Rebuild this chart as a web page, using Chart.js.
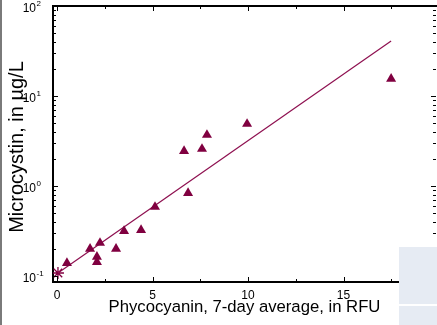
<!DOCTYPE html>
<html>
<head>
<meta charset="utf-8">
<script src="https://cdn.jsdelivr.net/npm/chart.js@4/dist/chart.umd.min.js"></script>
<style>
  html, body { margin: 0; padding: 0; background: #fff; }
  #wrap { width: 437px; height: 325px; }
</style>
</head>
<body>
<div id="wrap"><canvas id="chart" width="437" height="325"></canvas></div>
<script>
// --- data ---
const phycocyanin = [0.52, 1.73, 2.09, 2.09, 2.25, 3.09, 3.51, 4.40, 5.13, 6.65, 6.86, 7.59, 7.85, 9.95, 17.49];
const microcystin = [0.139, 0.20, 0.163, 0.143, 0.233, 0.20, 0.316, 0.324, 0.585, 2.45, 0.836, 2.58, 3.69, 4.89, 15.5];
const controlX = [0.05];
const controlY = [0.108];
const fitX = [0.05, 17.49];
const fitY = [0.108, 40.8];

const xMajorTicks = [0, 5, 10, 15];
const xMinorTicks = [2.5, 7.5, 12.5, 17.5];
const yDecades = [-1, 0, 1, 2];
const yTitle = 'Microcystin, in µg/L';

const MAROON = '#800040';
const FONT = "Arial, 'Liberation Sans', sans-serif";

// inward ticks, top frame, superscript y labels
const framePlugin = {
  id: 'frame',
  afterDraw(chart) {
    const { ctx, chartArea: a, scales: { x, y } } = chart;
    ctx.save();
    ctx.strokeStyle = '#000';

    // top frame line
    ctx.lineWidth = 2;
    ctx.beginPath();
    ctx.moveTo(a.left - 1, a.top);
    ctx.lineTo(437, a.top);
    ctx.stroke();

    ctx.lineWidth = 1;
    const xTick = (v, len) => {
      const px = Math.round(x.getPixelForValue(v)) + 0.5;
      ctx.beginPath();
      ctx.moveTo(px, a.bottom);
      ctx.lineTo(px, a.bottom - len);
      ctx.moveTo(px, a.top);
      ctx.lineTo(px, a.top + len);
      ctx.stroke();
    };
    xMajorTicks.forEach(v => xTick(v, 5));
    xMinorTicks.forEach(v => xTick(v, 3));

    const yTick = (v, len) => {
      const py = Math.round(y.getPixelForValue(v)) + 0.5;
      if (py < a.top || py > a.bottom) return;
      ctx.beginPath();
      ctx.moveTo(a.left, py);
      ctx.lineTo(a.left + len, py);
      ctx.moveTo(a.right, py);
      ctx.lineTo(a.right - len, py);
      ctx.stroke();
    };
    yDecades.forEach(d => {
      yTick(Math.pow(10, d), 5);
      for (let m = 2; m <= 9; m++) yTick(m * Math.pow(10, d), 3);
    });

    // y tick labels as 10 with raised exponent
    ctx.fillStyle = '#000';
    ctx.textBaseline = 'middle';
    yDecades.forEach(d => {
      const py = y.getPixelForValue(Math.pow(10, d));
      ctx.font = '12px ' + FONT;
      ctx.textAlign = 'right';
      ctx.fillText('10', 36, py + 3);
      ctx.font = '8px ' + FONT;
      ctx.textAlign = 'left';
      ctx.fillText(d < 0 ? '-' + Math.abs(d) : String(d), 36.5, py - 2);
    });

    // y axis title, sits a little below the axis centre in the reference
    ctx.save();
    ctx.translate(17, (a.top + a.bottom) / 2 + 3);
    ctx.rotate(-Math.PI / 2);
    ctx.font = '20px ' + FONT;
    ctx.textAlign = 'center';
    ctx.fillText(yTitle, 0, 0);
    ctx.restore();

    // cropped panel remnants from the source figure
    ctx.fillStyle = '#e6ebf3';
    ctx.fillRect(399, 247, 38, 57);
    ctx.fillRect(399, 306, 38, 19);
    ctx.fillStyle = '#7a7a7a';
    ctx.fillRect(0, 0, 2, 325);
    ctx.restore();
  }
};

new Chart(document.getElementById('chart'), {
  type: 'scatter',
  data: {
    datasets: [
      {
        label: 'Samples',
        data: phycocyanin.map((v, i) => ({ x: v, y: microcystin[i] })),
        pointStyle: 'triangle',
        pointRadius: 5.8,
        backgroundColor: MAROON,
        borderColor: MAROON,
        borderWidth: 0,
      },
      {
        label: 'Fit',
        type: 'line',
        data: fitX.map((v, i) => ({ x: v, y: fitY[i] })),
        borderColor: '#8e1050',
        borderWidth: 1.2,
        pointRadius: 0,
        fill: false,
      },
      {
        label: 'Control',
        data: controlX.map((v, i) => ({ x: v, y: controlY[i] })),
        pointStyle: 'star',
        pointRadius: 6,
        borderColor: MAROON,
        backgroundColor: MAROON,
        borderWidth: 1.3,
      },
    ],
  },
  options: {
    responsive: false,
    animation: false,
    layout: { autoPadding: false, padding: { top: 6, right: 1, left: 0, bottom: 0 } },
    plugins: {
      legend: { display: false },
      tooltip: { enabled: false },
    },
    scales: {
      x: {
        type: 'linear',
        min: -0.21,
        max: 19.84,
        afterBuildTicks: (scale) => {
          scale.ticks = xMajorTicks.map(v => ({ value: v }));
        },
        afterFit: (scale) => {
          scale.height = 43;
          scale.paddingLeft = 0;
          scale.paddingRight = 0;
        },
        ticks: {
          color: '#000',
          font: { family: FONT, size: 12 },
          padding: 6,
          maxRotation: 0,
          autoSkip: false,
        },
        grid: { display: false, drawTicks: false },
        border: { display: true, color: '#000', width: 2 },
        title: {
          display: true,
          text: 'Phycocyanin, 7-day average, in RFU',
          color: '#000',
          font: { family: FONT, size: 16.7 },
          padding: { top: 0, bottom: 8 },
        },
      },
      y: {
        type: 'logarithmic',
        min: 0.0858,
        max: 100,
        afterFit: (scale) => {
          scale.width = 53;
          scale.paddingTop = 0;
          scale.paddingBottom = 0;
        },
        ticks: { display: false },
        grid: { display: false, drawTicks: false },
        border: { display: true, color: '#000', width: 2 },
      },
    },
  },
  plugins: [framePlugin],
});
</script>
</body>
</html>
